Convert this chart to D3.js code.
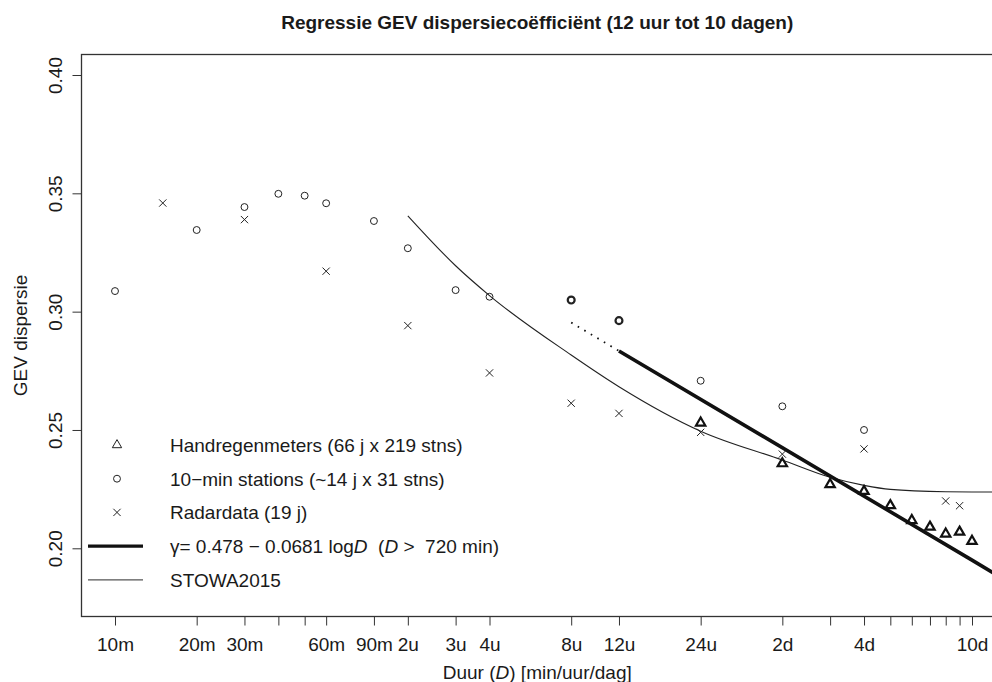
<!DOCTYPE html>
<html>
<head>
<meta charset="utf-8">
<script src="https://cdn.jsdelivr.net/npm/d3@7"></script>
<style>
    body { margin: 0; background: #fff; }
    svg text { font-family: "Liberation Sans", Arial, Helvetica, sans-serif; fill: #1a1a1a; white-space: pre; }
</style>
</head>
<body>
<div id="chart_div"></div>
<script>
// durations in minutes
const tickMinutes = [10, 20, 30, 60, 90, 120, 180, 240, 480, 720, 1440, 2880, 5760, 14400];
const tickLabels = ["10m", "20m", "30m", "60m", "90m", "2u", "3u", "4u", "8u", "12u", "24u", "2d", "4d", "10d"];
const minorTicks = [40, 50, 4320, 7200, 8640, 10080, 11520, 12960];
const yTicks = [0.20, 0.25, 0.30, 0.35, 0.40];

// 10-min stations
const stationDur = [10, 20, 30, 40, 50, 60, 90, 120, 180, 240, 480, 720, 1440, 2880, 5760];
const stationGamma = [0.3087, 0.3345, 0.3442, 0.3498, 0.3490, 0.3458, 0.3383, 0.3268, 0.3091, 0.3063, 0.3049, 0.2962, 0.2708, 0.2600, 0.2500];
const stationBold = [480, 720];

// radar
const radarDur = [15, 30, 60, 120, 240, 480, 720, 1440, 2880, 5760, 11520, 12960];
const radarGamma = [0.3459, 0.3389, 0.3171, 0.2941, 0.2741, 0.2613, 0.2570, 0.2490, 0.2398, 0.2420, 0.2200, 0.2180];

// handregenmeters
const handDur = [1440, 2880, 4320, 5760, 7200, 8640, 10080, 11520, 12960, 14400];
const handGamma = [0.2530, 0.2358, 0.2270, 0.2241, 0.2181, 0.2118, 0.2090, 0.2061, 0.2069, 0.2030];

// regression line (solid above 720 min, dotted below)
const fitDur = [720, 14400, 20160];
const fitGamma = [0.2834, 0.1950, 0.1850];
const fitDotDur = [480, 720];
const fitDotGamma = [0.2954, 0.2834];

// STOWA2015 curve
const stowaDur = [120, 180, 240, 480, 720, 1440, 2880, 4320, 5760, 7200, 11520, 14400, 17280];
const stowaGamma = [0.3405, 0.3194, 0.3068, 0.2817, 0.2683, 0.2495, 0.2373, 0.2300, 0.2266, 0.2249, 0.2239, 0.2238, 0.2238];

const width = 992, height = 682;
const box = {left: 81.5, right: 993, top: 54.5, bottom: 616.5};

let svg = d3.select("#chart_div").append("svg")
    .attr("width", width).attr("height", height);

let x = d3.scaleLog().domain([10, 14400]).range([115, 972]);
let y = d3.scaleLinear().domain([0.20, 0.40]).range([548.3, 75]);

svg.append("clipPath").attr("id", "plotClip")
    .append("rect")
    .attr("x", box.left).attr("y", box.top)
    .attr("width", box.right - box.left).attr("height", box.bottom - box.top);

// title
svg.append("text")
    .attr("x", (box.left + box.right) / 2).attr("y", 29)
    .attr("text-anchor", "middle")
    .style("font-size", "19px").style("font-weight", "bold")
    .text("Regressie GEV dispersiecoëfficiënt (12 uur tot 10 dagen)");

// x axis
let xAxis = d3.axisBottom(x)
    .tickValues(tickMinutes.concat(minorTicks))
    .tickSize(9).tickPadding(7)
    .tickFormat(d => {
        let i = tickMinutes.indexOf(d);
        return i >= 0 ? tickLabels[i] : "";
    });
let gx = svg.append("g")
    .attr("transform", "translate(0," + box.bottom + ")")
    .call(xAxis);
gx.select(".domain").remove();
gx.selectAll("line").attr("stroke", "#333");
gx.selectAll("text").style("font-size", "19px").attr("fill", "#1a1a1a").attr("dy", "0.95em");

// y axis, labels rotated like R's default
let yAxis = d3.axisLeft(y).tickValues(yTicks).tickSize(9).tickFormat(d3.format(".2f"));
let gy = svg.append("g")
    .attr("transform", "translate(" + box.left + ",0)")
    .call(yAxis);
gy.select(".domain").remove();
gy.selectAll("line").attr("stroke", "#333");
gy.selectAll("text")
    .style("font-size", "19px").attr("fill", "#1a1a1a")
    .attr("x", null).attr("dy", null)
    .attr("text-anchor", "middle")
    .attr("transform", "translate(-19.5,0) rotate(-90)");

// axis titles
let xlab = svg.append("text")
    .attr("x", (box.left + box.right) / 2).attr("y", 679)
    .attr("text-anchor", "middle")
    .style("font-size", "19px");
xlab.append("tspan").text("Duur (");
xlab.append("tspan").style("font-style", "italic").text("D");
xlab.append("tspan").text(") [min/uur/dag]");

svg.append("text")
    .attr("transform", "translate(27," + (box.top + box.bottom) / 2 + ") rotate(-90)")
    .attr("text-anchor", "middle")
    .style("font-size", "19px")
    .text("GEV dispersie");

// plot box
svg.append("rect")
    .attr("x", box.left).attr("y", box.top)
    .attr("width", box.right - box.left).attr("height", box.bottom - box.top)
    .attr("fill", "none").attr("stroke", "#333").attr("stroke-width", 1.3);

let plot = svg.append("g").attr("clip-path", "url(#plotClip)");

let line = d3.line().x(d => x(d[0])).y(d => y(d[1]));

plot.append("path")
    .datum(d3.zip(stowaDur, stowaGamma))
    .attr("d", line.curve(d3.curveMonotoneX))
    .attr("fill", "none").attr("stroke", "#222").attr("stroke-width", 1.1);

line.curve(d3.curveLinear);
plot.append("path")
    .datum(d3.zip(fitDur, fitGamma))
    .attr("d", line)
    .attr("fill", "none").attr("stroke", "#111").attr("stroke-width", 3.6);
plot.append("path")
    .datum(d3.zip(fitDotDur, fitDotGamma))
    .attr("d", line)
    .attr("fill", "none").attr("stroke", "#111").attr("stroke-width", 1.8)
    .attr("stroke-dasharray", "1.6,6");

// point symbols (R pch 1, 2, 4)
const u = 3.46;
function triPath() {
    return "M0," + (-1.555 * u) + "L" + (1.347 * u) + "," + (0.778 * u) + "L" + (-1.347 * u) + "," + (0.778 * u) + "Z";
}
function crossPath() {
    let c = u * 1.05;
    return "M" + (-c) + "," + (-c) + "L" + c + "," + c + "M" + (-c) + "," + c + "L" + c + "," + (-c);
}

plot.selectAll(".station")
    .data(d3.zip(stationDur, stationGamma))
    .enter()
    .append("circle")
    .classed("station", true)
    .attr("cx", d => x(d[0])).attr("cy", d => y(d[1]))
    .attr("r", u)
    .attr("fill", "none").attr("stroke", "#222")
    .attr("stroke-width", d => stationBold.includes(d[0]) ? 2.2 : 1);

plot.selectAll(".radar")
    .data(d3.zip(radarDur, radarGamma))
    .enter()
    .append("path")
    .classed("radar", true)
    .attr("transform", d => "translate(" + x(d[0]) + "," + y(d[1]) + ")")
    .attr("d", crossPath())
    .attr("fill", "none").attr("stroke", "#222").attr("stroke-width", 1);

plot.selectAll(".hand")
    .data(d3.zip(handDur, handGamma))
    .enter()
    .append("path")
    .classed("hand", true)
    .attr("transform", d => "translate(" + x(d[0]) + "," + y(d[1]) + ")")
    .attr("d", triPath())
    .attr("fill", "none").attr("stroke", "#111").attr("stroke-width", 2.2)
    .attr("stroke-linejoin", "miter");

// legend
const legendY0 = 445, legendStep = 33.7, legendSymX = 117, legendTextX = 170;
let legend = svg.append("g");

legend.append("path")
    .attr("transform", "translate(" + legendSymX + "," + legendY0 + ")")
    .attr("d", triPath())
    .attr("fill", "none").attr("stroke", "#222").attr("stroke-width", 1);
legend.append("circle")
    .attr("cx", legendSymX).attr("cy", legendY0 + legendStep)
    .attr("r", u).attr("fill", "none").attr("stroke", "#222");
legend.append("path")
    .attr("transform", "translate(" + legendSymX + "," + (legendY0 + 2 * legendStep) + ")")
    .attr("d", crossPath())
    .attr("fill", "none").attr("stroke", "#222");
legend.append("line")
    .attr("x1", 88).attr("x2", 143)
    .attr("y1", legendY0 + 3 * legendStep).attr("y2", legendY0 + 3 * legendStep)
    .attr("stroke", "#111").attr("stroke-width", 3.4);
legend.append("line")
    .attr("x1", 88).attr("x2", 143)
    .attr("y1", legendY0 + 4 * legendStep).attr("y2", legendY0 + 4 * legendStep)
    .attr("stroke", "#555").attr("stroke-width", 1.2);

let legendTexts = ["Handregenmeters (66 j x 219 stns)", "10\u2212min stations (~14 j x 31 stns)", "Radardata (19 j)", null, "STOWA2015"];
legendTexts.forEach(function (t, i) {
    let txt = legend.append("text")
        .attr("x", legendTextX).attr("y", legendY0 + i * legendStep)
        .attr("dy", "0.36em")
        .style("font-size", "19px");
    if (t !== null) {
        txt.text(t);
    } else {
        txt.append("tspan").text("\u03b3= 0.478 \u2212 0.0681 log");
        txt.append("tspan").style("font-style", "italic").text("D");
        txt.append("tspan").text("  (");
        txt.append("tspan").style("font-style", "italic").text("D");
        txt.append("tspan").text(" >  720 min)");
    }
});
</script>
</body>
</html>
